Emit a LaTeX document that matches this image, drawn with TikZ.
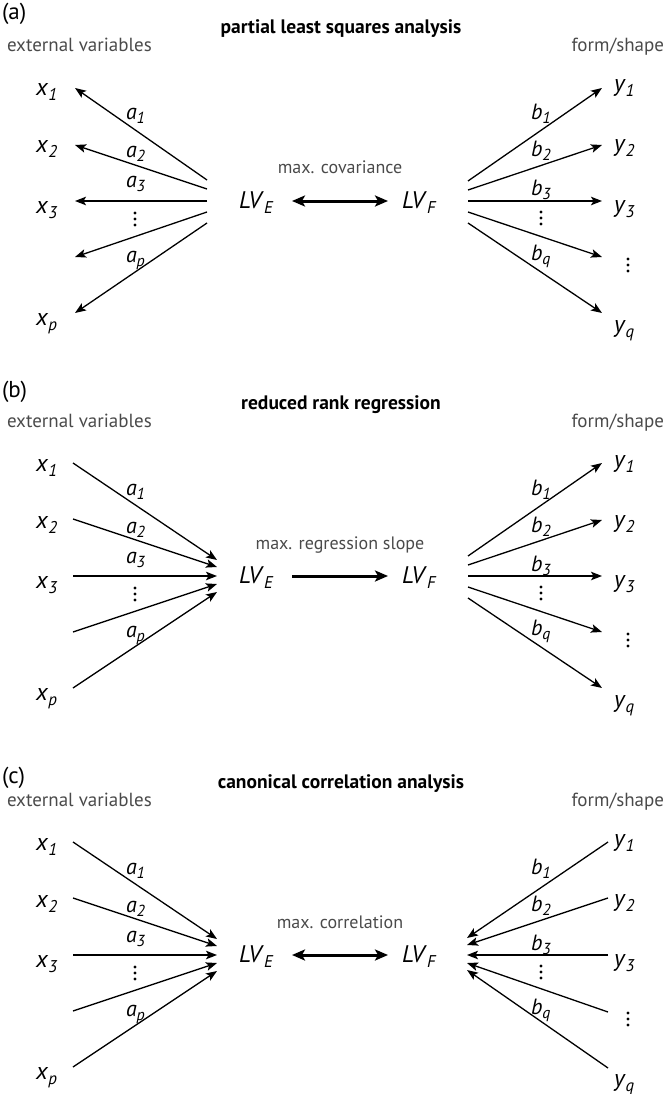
\documentclass[tikz,border=0pt]{standalone}
\usepackage{fontspec}
\setmainfont{PT Sans}
\usetikzlibrary{arrows.meta}
\definecolor{txtgray}{HTML}{4A4A4A}
\newcommand\vx[2]{\textit{#1}\raisebox{-5pt}{\fontsize{17}{17}\selectfont\textit{#2}}}
\newcommand\vl[2]{\textit{#1}\raisebox{-4pt}{\fontsize{16}{16}\selectfont\textit{#2}}}
\newcommand\vlv[1]{\textit{LV}\raisebox{-5pt}{\fontsize{17}{17}\selectfont\textit{#1}}}
\tikzset{
  every node/.style={inner sep=0pt, outer sep=0pt},
  var/.style={font=\fontsize{24}{24}\selectfont, anchor=base west},
  lab/.style={font=\fontsize{22}{22}\selectfont, anchor=base west},
  lvnode/.style={font=\fontsize{24}{24}\selectfont, anchor=base west},
  side/.style={font=\fontsize{19}{19}\selectfont, text=txtgray},
  mid/.style={font=\fontsize{18}{18}\selectfont, text=txtgray, anchor=base},
  ttl/.style={font=\fontsize{19.5}{19.5}\selectfont\bfseries, anchor=base},
  tag/.style={font=\fontsize{23}{23}\selectfont, anchor=base west},
  thinarr/.style={line width=1.3pt, -{Stealth[length=11pt,width=8.5pt,inset=2.5pt]}},
  bigtip/.tip={Stealth[length=13pt,width=11pt,inset=3pt]},
  bigarr/.style={line width=3pt},
}
% vertical ellipsis drawn as three dots round a named coordinate
\newcommand\vdotsat[2]{%
  \coordinate (#1) at #2;
  \fill ([yshift=6pt]#1) circle[radius=1.7pt] (#1) circle[radius=1.7pt] ([yshift=-6pt]#1) circle[radius=1.7pt];
}
% common text of a panel: #1 prefix, #2 tag, #3 tag baseline, #4 title, #5 middle text
\newcommand\panelbase[5]{%
  \node[tag] (#1tag) at (2,#3) {#2};
  \node[ttl] (#1title) at (341,-167) {#4};
  \node[side, anchor=base west] (#1ext) at (7,-149) {external variables};
  \node[side, anchor=base east] (#1form) at (664,-149) {form/shape};
  \node[var] (#1x1) at (36,-105) {\vx{x}{1}};
  \node[var] (#1x2) at (36,-48) {\vx{x}{2}};
  \node[var] (#1x3) at (36,12) {\vx{x}{3}};
  \node[var] (#1xp) at (36,124) {\vx{x}{p}};
  \node[var] (#1y1) at (614,-109) {\vx{y}{1}};
  \node[var] (#1y2) at (614,-49) {\vx{y}{2}};
  \node[var] (#1y3) at (614,11) {\vx{y}{3}};
  \vdotsat{#1yd}{(628,64)}
  \node[var] (#1yq) at (614,131) {\vx{y}{q}};
  \node[lab] (#1a1) at (126,-81) {\vl{a}{1}};
  \node[lab] (#1a2) at (126,-43) {\vl{a}{2}};
  \node[lab] (#1a3) at (126,-13) {\vl{a}{3}};
  \vdotsat{#1ad}{(135,18)}
  \node[lab] (#1ap) at (126,61) {\vl{a}{p}};
  \node[lab] (#1b1) at (531,-81) {\vl{b}{1}};
  \node[lab] (#1b2) at (531,-44) {\vl{b}{2}};
  \node[lab] (#1b3) at (531,-5) {\vl{b}{3}};
  \vdotsat{#1bd}{(541,17)}
  \node[lab] (#1bq) at (531,59) {\vl{b}{q}};
  \node[lvnode] (#1lve) at (239,7) {\vlv{E}};
  \node[lvnode] (#1lvf) at (402,7) {\vlv{F}};
  \node[mid] (#1mid) at (340,-27) {#5};
  \coordinate (#1ma) at (292,0);
  \coordinate (#1mb) at (388,0);
}
% left fan pointing outward (x = 207 -> 75)
\newcommand\leftout[1]{%
  \foreach \i/\a/\b in {1/-21/-113,2/-12/-56,3/0/0,4/11/56,5/22/112}{
    \coordinate (#1li\i) at (207,\a);
    \coordinate (#1lo\i) at (75,\b);
    \draw[thinarr] (#1li\i) -- (#1lo\i);
  }}
% left fan pointing inward (x = 73 -> 217)
\newcommand\leftin[1]{%
  \foreach \i/\a/\b in {1/-16/-113,2/-9/-57,3/0/0,4/8/56,5/16/112}{
    \coordinate (#1li\i) at (217,\a);
    \coordinate (#1lo\i) at (73,\b);
    \draw[thinarr] (#1lo\i) -- (#1li\i);
  }}
% right fan pointing outward (x = 468 -> 602)
\newcommand\rightout[1]{%
  \foreach \i/\a/\b in {1/-20/-113,2/-11/-56,3/0/0,4/11/56,5/22/112}{
    \coordinate (#1ri\i) at (468,\a);
    \coordinate (#1ro\i) at (602,\b);
    \draw[thinarr] (#1ri\i) -- (#1ro\i);
  }}
% right fan pointing inward (x = 608 -> 467)
\newcommand\rightin[1]{%
  \foreach \i/\a/\b in {1/-17/-113,2/-10/-57,3/0/0,4/8/57,5/15/113}{
    \coordinate (#1ri\i) at (467,\a);
    \coordinate (#1ro\i) at (608,\b);
    \draw[thinarr] (#1ro\i) -- (#1ri\i);
  }}
\begin{document}
\begin{tikzpicture}[x=1pt,y=-1pt]
\useasboundingbox (0,0) rectangle (669,1094);
% (a)
\begin{scope}[shift={(0,201)}]
  \panelbase{A}{(a)}{-181}{partial least squares analysis}{max. covariance}
  \leftout{A}
  \rightout{A}
  \draw[bigarr, bigtip-bigtip] (Ama) -- (Amb);
\end{scope}
% (b)
\begin{scope}[shift={(0,576)}]
  \panelbase{B}{(b)}{-179}{reduced rank regression}{max. regression slope}
  \leftin{B}
  \rightout{B}
  \draw[bigarr, -bigtip] (Bma) -- (Bmb);
\end{scope}
% (c)
\begin{scope}[shift={(0,955)}]
  \panelbase{C}{(c)}{-172}{canonical correlation analysis}{max. correlation}
  \leftin{C}
  \rightin{C}
  \draw[bigarr, bigtip-bigtip] (Cma) -- (Cmb);
\end{scope}
\end{tikzpicture}
\end{document}
